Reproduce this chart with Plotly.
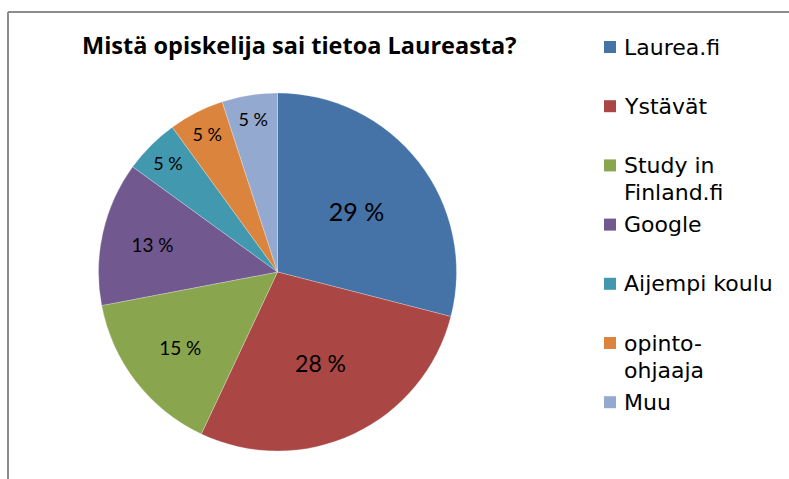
import textwrap
import plotly.graph_objects as go

# ---- data ----
title = "Mistä opiskelija sai tietoa Laureasta?"
labels = ["Laurea.fi", "Ystävät", "Study in Finland.fi", "Google",
          "Aijempi koulu", "opinto-ohjaaja", "Muu"]
values = [29, 28, 15, 13, 5, 5, 5]
colors = ["#4572A7", "#AA4643", "#89A54E", "#71588F",
          "#4198AF", "#DB843D", "#93A9CF"]
label_sizes = [25, 23, 19, 19, 18, 18, 18]

W, H = 789, 479
total = sum(values)
texts = [f"{round(100 * v / total)} %" for v in values]

def px(x):
    return x / W

def py(y):
    return 1 - y / H

cx, cy, r = 277.5, 272, 179

fig = go.Figure()
fig.add_trace(go.Pie(
    labels=labels, values=values, text=texts, textinfo="text",
    textposition="inside", insidetextorientation="horizontal",
    sort=False, direction="clockwise", rotation=0,
    marker=dict(colors=colors, line=dict(color="rgba(255,255,255,0.5)", width=0.5)),
    textfont=dict(family="Lato", color="black", size=label_sizes),
    domain=dict(x=[px(cx - r), px(cx + r)], y=[py(cy + r), py(cy - r)]),
    showlegend=False, hoverinfo="label+value",
))

shapes = [
    dict(type="line", xref="paper", yref="paper", x0=px(8), x1=px(8), y0=py(12), y1=0,
         line=dict(color="#8c8c8c", width=2)),
    dict(type="line", xref="paper", yref="paper", x0=px(8), x1=1, y0=py(12), y1=py(12),
         line=dict(color="#8c8c8c", width=2)),
]
annotations = [dict(text=f"<b>{title}</b>", xref="paper", yref="paper",
                    x=px(299), y=py(45), xanchor="center", yanchor="middle",
                    showarrow=False, font=dict(family="Open Sans", size=23.5, color="black"))]

# legend drawn as layout elements
for i, (lab, col) in enumerate(zip(labels, colors)):
    yc = 47 + 59.2 * i
    shapes.append(dict(type="rect", xref="paper", yref="paper",
                       x0=px(604), x1=px(616), y0=py(yc + 6), y1=py(yc - 6),
                       fillcolor=col, line=dict(width=0)))
    for j, line in enumerate(textwrap.wrap(lab, width=13)):
        annotations.append(dict(text=line, xref="paper", yref="paper",
                                x=px(622), y=py(yc + 27 * j), xanchor="left",
                                yanchor="middle", align="left", showarrow=False,
                                font=dict(family="DejaVu Sans", size=22, color="black")))

fig.update_layout(width=W, height=H, margin=dict(l=0, r=0, t=0, b=0),
                  paper_bgcolor="white", plot_bgcolor="white",
                  shapes=shapes, annotations=annotations)
fig.write_html("out.html", config={"displayModeBar": False},
               post_script="document.body.style.margin='0';")
